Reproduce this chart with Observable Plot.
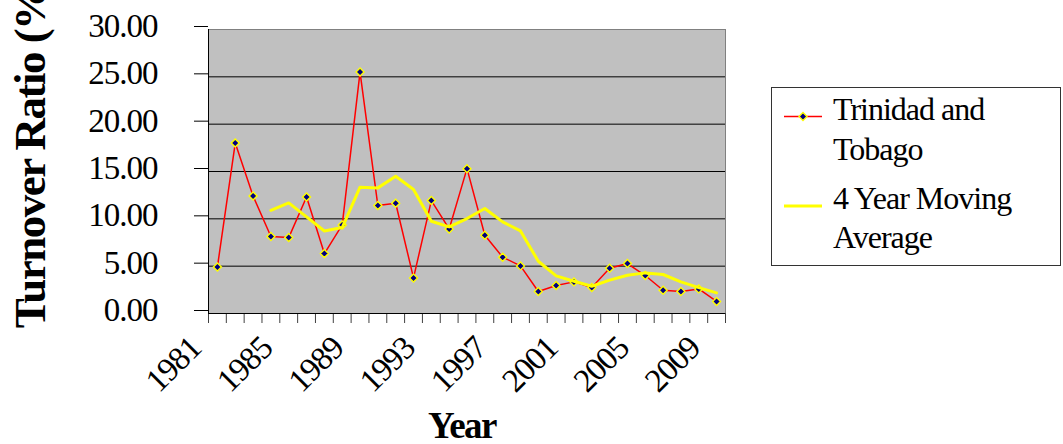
<!DOCTYPE html>
<html>
<head>
<meta charset="utf-8">
<script src="https://cdn.jsdelivr.net/npm/d3@7"></script>
<script src="https://cdn.jsdelivr.net/npm/@observablehq/plot@0.6"></script>
<style>
  html, body { margin: 0; padding: 0; background: #fff; }
  #chart { position: relative; width: 1063px; height: 444px; }
  g[aria-label="y-axis tick label"] text, g[aria-label="x-axis tick label"] text { letter-spacing: -1px; }
  g[aria-label="text"] text { letter-spacing: -1.5px; }
  #legend {
    position: absolute; left: 771px; top: 87px; width: 290px; height: 179px;
    border: 1px solid #333; background: #fff; box-sizing: border-box;
    font-family: "Liberation Serif", serif; font-size: 32px;
  }
  #legend svg { position: absolute; left: 0; top: 0; }
</style>
</head>
<body>
<div id="chart"></div>
<script>
const years = d3.range(1981, 2010);
const turnover = [4.92, 18.0, 12.42, 8.13, 8.02, 12.3, 6.33, 9.36, 25.5, 11.4,
  11.65, 3.76, 11.93, 8.93, 15.3, 8.27, 5.95, 5.03, 2.32, 2.95,
  3.34, 2.74, 4.78, 5.28, 4.01, 2.46, 2.32, 2.6, 1.27];
const movingAvg = [null, null, null, 10.9, 11.68, 10.2, 8.72, 9.08, 13.34, 13.27,
  14.5, 13.1, 9.75, 9.15, 10.03, 11.09, 9.68, 8.72, 5.52, 3.97,
  3.41, 2.88, 3.52, 4.04, 4.29, 4.12, 3.34, 2.74, 2.18];
const yTicks = [0, 5, 10, 15, 20, 25, 30];
const xLabelYears = [1981, 1985, 1989, 1993, 1997, 2001, 2005, 2009];
const seriesNames = ["Trinidad and Tobago", "4 Year Moving Average"];

const tt = years.map((y, i) => ({year: y, value: turnover[i]}));
const ma = years.map((y, i) => ({year: y, value: movingAvg[i]})).filter(d => d.value != null);
const bandEdges = d3.range(years.length + 1).map(i => years[0] - 0.5 + i);

const plot = Plot.plot({
  width: 1063,
  height: 444,
  marginLeft: 208,
  marginRight: 338,
  marginTop: 29,
  marginBottom: 131,
  style: {fontFamily: "'Liberation Serif', serif", background: "white", color: "#000"},
  x: {domain: [years[0] - 0.5, years[years.length - 1] + 0.5]},
  y: {domain: [0, 30]},
  marks: [
    Plot.frame({fill: "#c0c0c0", stroke: "#808080"}),
    Plot.gridY(yTicks.slice(1, -1), {stroke: "#000", strokeOpacity: 1}),
    Plot.axisY(yTicks, {tickSize: 14, tickPadding: 37, tickFormat: d3.format(".2f"), fontSize: 33, dy: -3, label: null, stroke: "#000"}),
    Plot.axisX(bandEdges, {tickSize: 10, tickFormat: () => "", label: null, stroke: "#404040"}),
    Plot.axisX(xLabelYears, {tickSize: 0, tickRotate: -45, tickPadding: 29, dx: -22, fontSize: 33, tickFormat: d => String(d), label: null}),
    Plot.ruleX([years[0] - 0.5], {stroke: "#000"}),
    Plot.ruleY([0], {stroke: "#000"}),
    Plot.line(tt, {x: "year", y: "value", stroke: "#ff0000", strokeWidth: 1.5}),
    Plot.dot(tt, {x: "year", y: "value", symbol: d3.symbolDiamond2, r: 3.6, fill: "#000080", stroke: "#ffff00", strokeWidth: 1.4}),
    Plot.line(ma, {x: "year", y: "value", stroke: "#ffff00", strokeWidth: 3}),
    Plot.text(["Year"], {frameAnchor: "bottom", lineAnchor: "bottom", dx: -5, dy: 124, fontSize: 37, fontWeight: "bold"}),
    Plot.text(["Turnover Ratio (%)"], {frameAnchor: "bottom-left", rotate: -90, textAnchor: "start", lineAnchor: "bottom", dx: -163.3, dy: 14.7, fontSize: 45, fontWeight: "bold"})
  ]
});
document.getElementById("chart").appendChild(plot);

// Legend
const legend = document.createElement("div");
legend.id = "legend";
legend.innerHTML = `
<svg width="290" height="179">
  <line x1="12" x2="50" y1="28.5" y2="28.5" stroke="#ff0000" stroke-width="1.5"/>
  <path d="${d3.symbol(d3.symbolDiamond2, Math.PI * 3.6 * 3.6)()}" transform="translate(31,28.5)" fill="#000080" stroke="#ffff00" stroke-width="1.4"/>
  <line x1="12" x2="50" y1="118" y2="118" stroke="#ffff00" stroke-width="3"/>
  <text x="61" y="32" font-family="Liberation Serif" font-size="32" letter-spacing="-1">${seriesNames[0].split(" ").slice(0, 2).join(" ")}</text>
  <text x="61" y="72" font-family="Liberation Serif" font-size="32" letter-spacing="-1">${seriesNames[0].split(" ").slice(2).join(" ")}</text>
  <text x="61" y="121" font-family="Liberation Serif" font-size="32" letter-spacing="-1">${seriesNames[1].split(" ").slice(0, 3).join(" ")}</text>
  <text x="61" y="160" font-family="Liberation Serif" font-size="32" letter-spacing="-1">${seriesNames[1].split(" ").slice(3).join(" ")}</text>
</svg>`;
document.getElementById("chart").appendChild(legend);
</script>
</body>
</html>
